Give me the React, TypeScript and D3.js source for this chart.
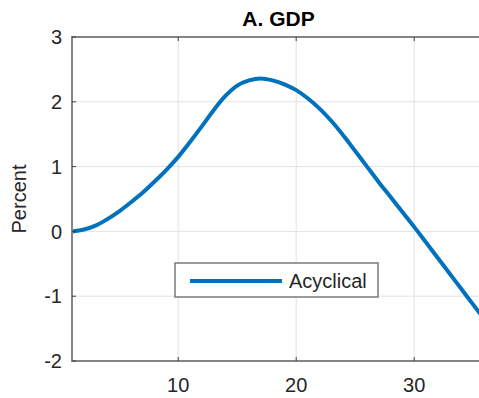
import React, { useEffect, useRef } from 'react';
import * as d3 from 'd3';

// quarters after shock and GDP response (percent)
const quarters = d3.range(1, 37);
const gdpAcyclical = [
  0, 0.03, 0.09, 0.19, 0.31, 0.45, 0.6, 0.77, 0.95, 1.15,
  1.38, 1.62, 1.87, 2.09, 2.25, 2.33, 2.36, 2.33, 2.27, 2.18,
  2.05, 1.89, 1.7, 1.48, 1.24, 1.0, 0.76, 0.53, 0.3, 0.07,
  -0.17, -0.41, -0.65, -0.89, -1.13, -1.37,
];
const xTicks = [10, 20, 30];
const yTicks = [-2, -1, 0, 1, 2, 3];
const seriesName = 'Acyclical';

const W = 479;
const H = 398;

export default function App() {
  const ref = useRef<SVGSVGElement>(null);

  useEffect(() => {
    const svg = d3.select(ref.current);
    svg.selectAll('*').remove();

    const margin = { top: 37, left: 72, bottom: 361, right: 485 };
    const x = d3.scaleLinear().domain([1, 36]).range([margin.left, margin.right]);
    const y = d3.scaleLinear().domain([-2, 3]).range([margin.bottom, margin.top]);
    const font = 'Arial, "Liberation Sans", Helvetica, sans-serif';
    const textCol = '#262626';
    const axisCol = '#858585';
    const fs = 20;

    // grid
    const grid = svg.append('g').attr('stroke', '#e3e3e3').attr('stroke-width', 1);
    xTicks.forEach(t => {
      grid.append('line').attr('x1', x(t)).attr('x2', x(t)).attr('y1', y(3)).attr('y2', y(-2));
    });
    yTicks.forEach(t => {
      grid.append('line').attr('x1', x(1)).attr('x2', x(36)).attr('y1', y(t)).attr('y2', y(t));
    });

    // data line
    const line = d3.line<number>()
      .x((_, i) => x(quarters[i]))
      .y(d => y(d))
      .curve(d3.curveMonotoneX);
    svg.append('path')
      .datum(gdpAcyclical)
      .attr('fill', 'none')
      .attr('stroke', '#0072BD')
      .attr('stroke-width', 4)
      .attr('d', line);

    // axes
    const ax = svg.append('g').attr('stroke', axisCol).attr('stroke-width', 2).attr('fill', 'none');
    ax.append('path').attr('d', `M${x(36) + 5},${y(3)}H${x(1)}V${y(-2)}H${x(36) + 5}`);
    const tk = svg.append('g').attr('stroke', '#404040').attr('stroke-width', 1);
    xTicks.forEach(t => {
      tk.append('line').attr('x1', x(t)).attr('x2', x(t)).attr('y1', y(-2)).attr('y2', y(-2) - 4);
      tk.append('line').attr('x1', x(t)).attr('x2', x(t)).attr('y1', y(3)).attr('y2', y(3) + 4);
    });
    yTicks.forEach(t => {
      tk.append('line').attr('x1', x(1)).attr('x2', x(1) + 4).attr('y1', y(t)).attr('y2', y(t));
    });

    // tick labels
    svg.append('g').selectAll('text').data(xTicks).enter().append('text')
      .attr('x', d => x(d)).attr('y', 392)
      .attr('text-anchor', 'middle')
      .attr('font-family', font).attr('font-size', fs).attr('fill', textCol)
      .text(d => d);
    svg.append('g').selectAll('text').data(yTicks).enter().append('text')
      .attr('x', 62).attr('y', d => y(d)).attr('dy', '0.36em')
      .attr('text-anchor', 'end')
      .attr('font-family', font).attr('font-size', fs).attr('fill', textCol)
      .text(d => d);

    // y label
    svg.append('text')
      .attr('transform', `translate(26,${(y(3) + y(-2)) / 2}) rotate(-90)`)
      .attr('text-anchor', 'middle')
      .attr('font-family', font).attr('font-size', fs).attr('fill', textCol)
      .text('Percent');

    // title
    svg.append('text')
      .attr('x', (x(1) + x(36)) / 2).attr('y', 26)
      .attr('text-anchor', 'middle')
      .attr('font-family', font).attr('font-size', 21).attr('font-weight', 'bold').attr('fill', '#000')
      .text('A. GDP');

    // legend
    const lg = svg.append('g');
    lg.append('rect')
      .attr('x', 175).attr('y', 263).attr('width', 203).attr('height', 34)
      .attr('fill', '#fff').attr('stroke', '#7a7a7a').attr('stroke-width', 1.5);
    lg.append('line')
      .attr('x1', 190).attr('x2', 282).attr('y1', 281).attr('y2', 281)
      .attr('stroke', '#0072BD').attr('stroke-width', 4);
    lg.append('text')
      .attr('x', 289).attr('y', 281).attr('dy', '0.36em')
      .attr('font-family', font).attr('font-size', fs).attr('fill', textCol)
      .text(seriesName);
  }, []);

  return (
    <svg ref={ref} width={W} height={H}
      style={{ position: 'absolute', left: 0, top: 0, background: '#fff' }} />
  );
}
